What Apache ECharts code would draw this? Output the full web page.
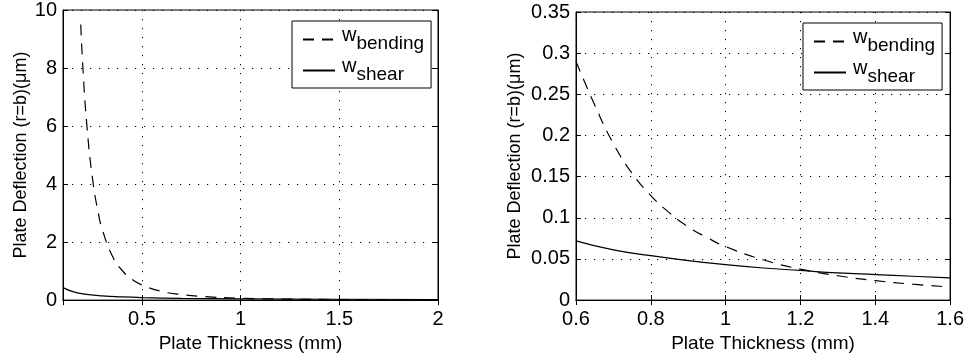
<!DOCTYPE html>
<html>
<head>
<meta charset="utf-8">
<script src="https://cdn.jsdelivr.net/npm/echarts@6/dist/echarts.min.js"></script>
<style>
  html, body { margin: 0; padding: 0; background: #fff; }
  #chart { width: 967px; height: 358px; }
</style>
</head>
<body>
<div id="chart"></div>
<script>
// left panel: thickness 0.1 .. 2 mm
var leftBendX = [0.19, 0.2, 0.22, 0.25, 0.28, 0.3, 0.35, 0.4, 0.45, 0.5, 0.6, 0.7, 0.8, 1.0, 1.2, 1.5, 2.0];
var leftBendY = [9.5, 8.1, 6.1, 4.16, 2.96, 2.41, 1.52, 1.02, 0.71, 0.52, 0.30, 0.19, 0.127, 0.065, 0.038, 0.019, 0.008];
var leftShearX = [0.1, 0.15, 0.2, 0.3, 0.4, 0.5, 0.7, 1.0, 1.5, 2.0];
var leftShearY = [0.43, 0.29, 0.215, 0.143, 0.108, 0.086, 0.061, 0.043, 0.029, 0.0215];

// right panel: thickness 0.6 .. 1.6 mm
var rightBendX = [0.6, 0.65, 0.7, 0.75, 0.8, 0.85, 0.9, 0.95, 1.0, 1.1, 1.2, 1.3, 1.4, 1.5, 1.6];
var rightBendY = [0.29, 0.237, 0.19, 0.154, 0.127, 0.106, 0.089, 0.076, 0.065, 0.049, 0.0376, 0.0296, 0.0237, 0.0193, 0.0159];
var rightShearX = [0.6, 0.7, 0.8, 0.9, 1.0, 1.1, 1.2, 1.3, 1.4, 1.5, 1.6];
var rightShearY = [0.072, 0.061, 0.054, 0.048, 0.043, 0.039, 0.036, 0.033, 0.031, 0.029, 0.027];

var xTitle = 'Plate Thickness (mm)';
var yTitle = 'Plate Deflection (r=b)(\u03bcm)';
var legendNames = ['w_bending', 'w_shear'];

function pairs(xs, ys) {
  return xs.map(function (x, i) { return [x, ys[i]]; });
}

var FONT = '"Liberation Sans", Arial, sans-serif';
var black = '#000';
var LABEL = 20;

var dotted = { show: true, lineStyle: { color: black, width: 1, type: [1.2, 7.8] } };
var tick = { show: true, inside: true, length: 5, lineStyle: { color: black } };

function xAxis(idx, min, max, extra) {
  return Object.assign({
    type: 'value', gridIndex: idx, min: min, max: max,
    name: xTitle, nameLocation: 'middle', nameGap: 30,
    nameTextStyle: { color: black, fontSize: 19, fontFamily: FONT },
    axisLine: { show: true, lineStyle: { color: black, width: 1 } },
    axisTick: tick,
    axisLabel: { color: black, fontSize: LABEL, fontFamily: FONT, margin: 9 },
    splitLine: dotted
  }, extra);
}

function yAxis(idx, max, interval, gap) {
  return {
    type: 'value', gridIndex: idx, min: 0, max: max, interval: interval,
    name: yTitle, nameLocation: 'middle', nameGap: gap,
    nameTextStyle: { color: black, fontSize: 18, fontFamily: FONT },
    axisLine: { show: true, lineStyle: { color: black, width: 1 } },
    axisTick: tick,
    axisLabel: { color: black, fontSize: LABEL, fontFamily: FONT, margin: 6 },
    splitLine: dotted
  };
}

// opposite-side axes: only inward ticks, like a boxed plot
function mirror(kind, idx, min, max, extra) {
  return Object.assign({
    type: 'value', gridIndex: idx, min: min, max: max,
    position: kind === 'x' ? 'top' : 'right',
    axisLine: { show: true, lineStyle: { color: black, width: 1 } },
    axisTick: tick, axisLabel: { show: false }, splitLine: { show: false }
  }, extra);
}

function legend(left, top) {
  return {
    data: legendNames, orient: 'vertical', left: left, top: top,
    backgroundColor: '#fff', borderColor: black, borderWidth: 1,
    padding: [4, 7, 3, 10], itemGap: 2, itemWidth: 32, itemHeight: 14,
    selectedMode: false,
    itemStyle: { opacity: 0 },
    formatter: function (name) { return '{w|w}{s|' + name.split('_')[1] + '}'; },
    textStyle: {
      color: black, fontFamily: FONT,
      rich: {
        w: { fontSize: 20, lineHeight: 18, padding: [0, 0, 9, 2], fontFamily: FONT, color: black },
        s: { fontSize: 19, lineHeight: 18, padding: [9, 0, 0, 0], fontFamily: FONT, color: black }
      }
    }
  };
}

function line(name, idx, data, dashed) {
  return {
    name: name, type: 'line', xAxisIndex: idx, yAxisIndex: idx,
    data: data, symbol: 'none', smooth: true, silent: true,
    lineStyle: { color: black, width: 1.2, type: dashed ? [11, 8] : 'solid' },
    itemStyle: { color: black }
  };
}

var chart = echarts.init(document.getElementById('chart'), null, { renderer: 'canvas' });
chart.setOption({
  animation: false,
  backgroundColor: '#fff',
  grid: [
    { left: 63, right: 529, top: 10, bottom: 56, show: true, borderColor: black, borderWidth: 1 },
    { left: 576, right: 16, top: 12, bottom: 55, show: true, borderColor: black, borderWidth: 1 }
  ],
  xAxis: [
    xAxis(0, 0.1, 2, { minInterval: 0.5, maxInterval: 0.5, axisLabel: { color: black, fontSize: LABEL, fontFamily: FONT, margin: 9, showMinLabel: false } }),
    xAxis(1, 0.6, 1.6, { interval: 0.2 }),
    mirror('x', 0, 0.1, 2, { minInterval: 0.5, maxInterval: 0.5 }),
    mirror('x', 1, 0.6, 1.6, { interval: 0.2 })
  ],
  yAxis: [
    yAxis(0, 10, 2, 33),
    yAxis(1, 0.35, 0.05, 52),
    mirror('y', 0, 0, 10, { interval: 2 }),
    mirror('y', 1, 0, 0.35, { interval: 0.05 })
  ],
  legend: [legend(292, 21), legend(803, 23)],
  series: [
    line(legendNames[0], 0, pairs(leftBendX, leftBendY), true),
    line(legendNames[1], 0, pairs(leftShearX, leftShearY), false),
    line(legendNames[0], 1, pairs(rightBendX, rightBendY), true),
    line(legendNames[1], 1, pairs(rightShearX, rightShearY), false)
  ]
});
</script>
</body>
</html>
